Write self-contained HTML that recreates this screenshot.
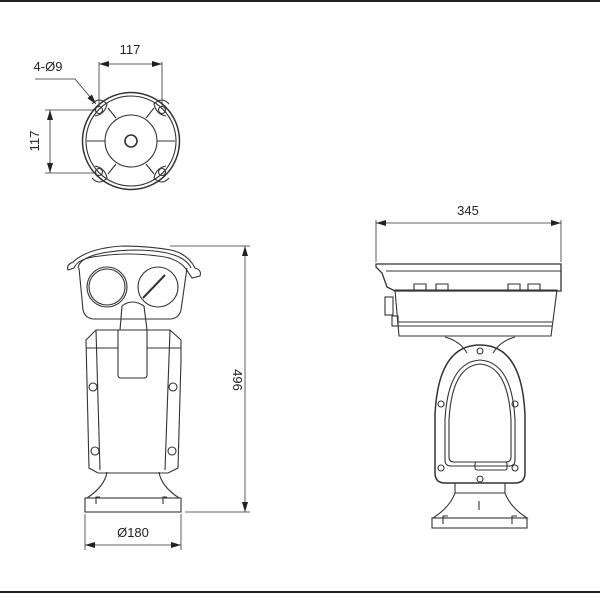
<!DOCTYPE html>
<html><head><style>html,body{margin:0;padding:0;background:#fff}svg{display:block}</style></head>
<body>
<svg width="600" height="600" viewBox="0 0 600 600" xmlns="http://www.w3.org/2000/svg" font-family="Liberation Sans, sans-serif">
<defs>
<marker id="a" viewBox="0 0 10 6" refX="10" refY="3" markerWidth="10" markerHeight="6" orient="auto-start-reverse" markerUnits="userSpaceOnUse"><path d="M0,0 L10,3 L0,6 z" fill="#222"/></marker>
</defs>
<line x1="0" y1="1" x2="600" y2="1" stroke="#222" stroke-width="2"/>
<line x1="0" y1="592" x2="600" y2="592" stroke="#222" stroke-width="2"/>
<g fill="none" stroke="#333" stroke-width="1.1">
<!-- top view -->
<circle cx="131" cy="141" r="48.5" stroke-width="1.5"/>
<circle cx="131" cy="141" r="45"/>
<circle cx="131" cy="141" r="26"/>
<circle cx="131" cy="141" r="6" stroke-width="1.6"/>
<g>
<circle cx="99" cy="110" r="3.5"/><circle cx="162" cy="110" r="3.5"/>
<circle cx="99" cy="172" r="3.5"/><circle cx="162" cy="172" r="3.5"/>
<path d="M92,104 q7,-8 15,0 q-2,10 -12,12"/><path d="M169,104 q-7,-8 -15,0 q2,10 12,12"/>
<path d="M92,178 q7,8 15,0 q-2,-10 -12,-12"/><path d="M169,178 q-7,8 -15,0 q2,-10 12,-12"/>
<line x1="108" y1="108" x2="116" y2="118"/><line x1="154" y1="108" x2="146" y2="118"/>
<line x1="108" y1="174" x2="116" y2="164"/><line x1="154" y1="174" x2="146" y2="164"/>
<line x1="87" y1="141" x2="105" y2="141"/><line x1="157" y1="141" x2="175" y2="141"/>
</g>
<line x1="99" y1="62" x2="99" y2="106" stroke-width="0.8"/>
<line x1="162" y1="62" x2="162" y2="106" stroke-width="0.8"/>
<line x1="99" y1="64" x2="162" y2="64" marker-start="url(#a)" marker-end="url(#a)" stroke-width="0.8"/>
<line x1="45" y1="110" x2="95" y2="110" stroke-width="0.8"/>
<line x1="45" y1="173" x2="96" y2="173" stroke-width="0.8"/>
<line x1="50" y1="110" x2="50" y2="173" marker-start="url(#a)" marker-end="url(#a)" stroke-width="0.8"/>
<polyline points="35,79 75,79 96,104" marker-end="url(#a)" stroke-width="0.8"/>
<!-- front view -->
<path d="M68,270 q-2,-5 5,-8 q15,-14 50,-16 q25,0 48,4 q17,4 24,18 q7,2 5,8 l-8,2 l-4,-6 q-8,-14 -30,-16 q-30,-4 -58,0 q-22,2 -26,12 z"/>
<path d="M78,268 q2,-16 55,-18 q50,0 58,18"/>
<path d="M79,268 l4,42 q2,8 10,9 h78 q8,-1 10,-9 l6,-42"/>
<circle cx="107" cy="287" r="20"/><circle cx="107" cy="287" r="18"/>
<circle cx="158" cy="287" r="20"/>
<line x1="143" y1="298" x2="165" y2="275" stroke-width="2"/>
<path d="M120,330 l2,-24 q10,-8 22,0 l3,24"/>
<path d="M118,330 v45 q0,3 3,3 h23 q3,0 3,-3 v-45"/>
<path d="M86,340 l10,-10 h74 l11,10 v20 l-3,108 l-10,5 h-70 l-9,-5 z"/>
<line x1="96" y1="330" x2="100" y2="470"/><line x1="170" y1="330" x2="165" y2="470"/>
<line x1="86" y1="348" x2="118" y2="348"/><line x1="147" y1="348" x2="181" y2="348"/>
<circle cx="93" cy="387" r="4"/><circle cx="173" cy="387" r="4"/>
<circle cx="95" cy="451" r="4"/><circle cx="172" cy="451" r="4"/>
<path d="M107,472 q-2,14 -20,26 h92 q-18,-12 -20,-26"/>
<rect x="85" y="498" width="96" height="14"/>
<path d="M96,504 v-7 h4 M163,504 v-7 h4"/>
<line x1="170" y1="246" x2="250" y2="246" stroke-width="0.8"/>
<line x1="185" y1="512" x2="250" y2="512" stroke-width="0.8"/>
<line x1="245" y1="246" x2="245" y2="512" marker-start="url(#a)" marker-end="url(#a)" stroke-width="0.8"/>
<line x1="85" y1="514" x2="85" y2="550" stroke-width="0.8"/><line x1="181" y1="514" x2="181" y2="550" stroke-width="0.8"/>
<line x1="85" y1="545" x2="181" y2="545" marker-start="url(#a)" marker-end="url(#a)" stroke-width="0.8"/>
<!-- side view -->
<line x1="376" y1="223" x2="561" y2="223" marker-start="url(#a)" marker-end="url(#a)" stroke-width="0.8"/>
<line x1="376" y1="220" x2="376" y2="262" stroke-width="0.8"/><line x1="561" y1="220" x2="561" y2="262" stroke-width="0.8"/>
<path d="M376,264 h185 v27 h-166 l-8,-4 l-5,-14 l-6,-6 z" stroke-width="1.3"/>
<line x1="386" y1="271" x2="561" y2="271"/>
<path d="M395,290 h162 l-6,46 h-152 l-4,-46 z"/>
<line x1="397" y1="322" x2="552" y2="322"/><line x1="397" y1="326" x2="552" y2="326"/>
<rect x="385" y="297" width="8" height="18"/><rect x="392" y="316" width="6" height="10"/>
<path d="M414,290 v-6 h12 v6 M436,290 v-6 h12 v6 M508,290 v-6 h12 v6 M528,290 v-6 h12 v6"/>
<path d="M445,337 q15,4 22,16 M515,337 q-15,4 -22,16"/>
<path d="M480,345 q42,0 45,70 v58 q0,10 -10,10 h-70 q-10,0 -10,-10 v-58 q3,-70 45,-70 z" stroke-width="1.5"/>
<path d="M480,360 q32,2 35,60 v40 q0,6 -6,6 h-58 q-6,0 -6,-6 v-40 q3,-58 35,-60 z"/>
<path d="M480,364 q28,2 31,56 v37 q0,5 -5,5 h-52 q-5,0 -5,-5 v-37 q3,-54 31,-56 z"/>
<rect x="475" y="462" width="32" height="8" rx="2"/>
<circle cx="480" cy="351" r="3"/><circle cx="441" cy="404" r="3"/><circle cx="515" cy="404" r="3"/>
<circle cx="441" cy="468" r="3"/><circle cx="515" cy="468" r="3"/><circle cx="480" cy="479" r="3"/>
<path d="M455,483 v10 h50 v-10 M455,493 q-5,14 -22,25 h94 q-17,-11 -22,-25"/>
<rect x="432" y="518" width="95" height="10"/>
<path d="M443,524 v-8 h5 M512,524 v-8 h5"/><line x1="479" y1="501" x2="479" y2="510"/>
</g>
<g fill="#222" font-size="13">
<text x="130" y="54" text-anchor="middle">117</text>
<text x="48" y="71" text-anchor="middle">4-Ø9</text>
<text transform="translate(39,141) rotate(-90)" text-anchor="middle">117</text>
<text transform="translate(233,380) rotate(90)" text-anchor="middle">496</text>
<text x="133" y="537" text-anchor="middle">Ø180</text>
<text x="468" y="215" text-anchor="middle">345</text>
</g>
</svg>
</body></html>
